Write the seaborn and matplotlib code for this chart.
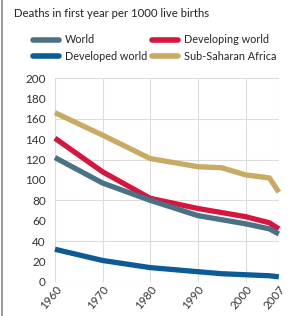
import matplotlib
matplotlib.use("Agg")
import matplotlib.pyplot as plt
import pandas as pd
import seaborn as sns

years = [1960, 1970, 1980, 1990, 1995, 2000, 2005, 2007]
world = [122, 97, 80, 65, 61, 57, 52, 47]
developing = [141, 108, 82, 72, 68, 64, 58, 52]
developed = [32, 21, 14, 10, 8, 7, 6, 5]
subsaharan = [166, 144, 121, 113, 112, 105, 102, 88]

series_names = ["World", "Developing world", "Developed world", "Sub-Saharan Africa"]
colors = ["#4b7185", "#d6163c", "#0b5b96", "#c8aa62"]
xticks = [1960, 1970, 1980, 1990, 2000, 2007]

df = pd.DataFrame({
    "year": years * 4,
    "value": world + developing + developed + subsaharan,
    "series": sum([[n] * len(years) for n in series_names], []),
})

sns.set_style("white")
plt.rcParams["font.family"] = ["Lato", "DejaVu Sans"]

fig = plt.figure(figsize=(2.89, 3.16), dpi=100)
ax = fig.add_axes([0.19, 0.108, 0.775, 0.645])

# draw back-to-front
for name in ["Sub-Saharan Africa", "Developing world", "World", "Developed world"]:
    sub = df[df["series"] == name]
    sns.lineplot(data=sub, x="year", y="value", color=colors[series_names.index(name)],
                 lw=3.8, ax=ax, clip_on=False, solid_capstyle="butt", legend=False)

ax.set_xlim(1960, 2007)
ax.set_ylim(0, 200)
ax.set_xticks(xticks)
ax.set_yticks(range(0, 201, 20))
ax.set_xticklabels([str(y) for y in xticks], rotation=50, fontsize=8.3, color="#333333")
ax.tick_params(axis="y", labelsize=8.5, colors="#333333", length=3, width=0.6)
ax.tick_params(axis="x", length=0, pad=1)
for t in ax.get_xticklabels():
    t.set_ha("right")
    t.set_rotation_mode("anchor")
ax.set_xlabel("")
ax.set_ylabel("")
for y in range(0, 201, 40):
    ax.axhline(y, color="#dcdcdc", lw=0.8, zorder=0)
for x in xticks:
    ax.axvline(x, color="#dcdcdc", lw=0.8, zorder=0)
for s in ax.spines.values():
    s.set_visible(False)

# legend fills column-wise: World / Developed world, then Developing / Sub-Saharan
order = [0, 2, 1, 3]
handles = [plt.Line2D([0], [0], color=colors[i], lw=4, solid_capstyle="round") for i in order]
labels = [series_names[i] for i in order]
fig.legend(handles, labels, ncol=2, loc="upper left", bbox_to_anchor=(0.10, 0.905),
           frameon=False, fontsize=7.8, handlelength=2.4, handletextpad=0.55,
           columnspacing=0.4, labelspacing=0.5, borderaxespad=0)

fig.text(0.05, 0.975, "Deaths in first year per 1000 live births", fontsize=8.2,
         va="top", ha="left", color="#222222")
fig.add_artist(plt.Line2D([0.006, 0.006], [0, 1], color="#888888", lw=1.2))

fig.savefig("out.png", dpi=100)
